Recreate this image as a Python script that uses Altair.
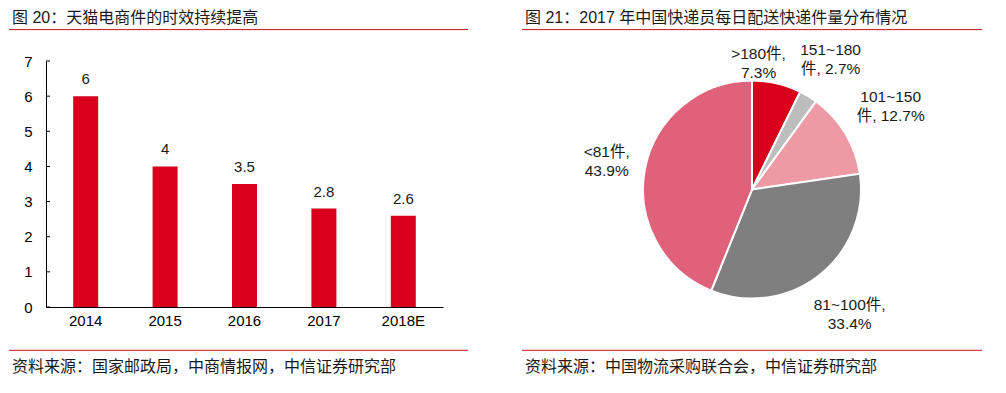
import altair as alt
import pandas as pd

FONT = "Liberation Sans, Noto Sans CJK SC"
RED = "#D9001B"
LINE_RED = "#D0101E"
TXT = "#1a1a1a"

# ---- data ----
years = ["2014", "2015", "2016", "2017", "2018E"]
days = [6, 4, 3.5, 2.8, 2.6]
y_ticks = [0, 1, 2, 3, 4, 5, 6, 7]

pie_cats = [">180件", "151~180件", "101~150件", "81~100件", "<81件"]
pie_vals = [7.3, 2.7, 12.7, 33.4, 43.9]
pie_labels = [">180件,\n7.3%", "151~180\n件, 2.7%", "101~150\n件, 12.7%", "81~100件,\n33.4%", "<81件,\n43.9%"]

title_left = "图 20：天猫电商件的时效持续提高"
title_right = "图 21：2017 年中国快递员每日配送快递件量分布情况"
source_left = "资料来源：国家邮政局，中商情报网，中信证券研究部"
source_right = "资料来源：中国物流采购联合会，中信证券研究部"

# ---- styles ----
pie_colors = ["#D9001B", "#BDBDBD", "#EE9AA5", "#7F7F7F", "#E0627A"]
label_radius = {">180件": 130, "151~180件": 152, "101~150件": 162, "81~100件": 158, "<81件": 148}

W1, H1 = 397, 246
W2, H2 = 460, 257


def deco(text, x, y, size=16):
    return alt.Chart(pd.DataFrame({"t": [text]})).mark_text(
        align="left", baseline="middle", font=FONT, fontSize=size, color=TXT
    ).encode(x=alt.value(x), y=alt.value(y), text="t:N")


def hline(x1, x2, y):
    return alt.Chart(pd.DataFrame({"a": [0]})).mark_rule(color=LINE_RED, strokeWidth=1).encode(
        x=alt.value(x1), x2=alt.value(x2), y=alt.value(y)
    )


# ---- left panel ----
bar_df = pd.DataFrame({"year": years, "days": days})
tick_df = pd.DataFrame({"days": y_ticks})

xenc = alt.X(
    "year:N", sort=years,
    scale=alt.Scale(paddingInner=0, paddingOuter=0),
    axis=alt.Axis(title=None, labelAngle=0, ticks=False, labelPadding=6, labelFontSize=15,
                  labelColor="#000", labelFont=FONT, domainColor="#000", domainWidth=1, grid=False),
)
yenc = alt.Y(
    "days:Q", scale=alt.Scale(domain=[0, 7], nice=False),
    axis=alt.Axis(title=None, values=y_ticks, ticks=False, labelPadding=14, labelFontSize=15,
                  labelColor="#000", labelFont=FONT, domainColor="#000", domainWidth=1, grid=False),
)

bars = alt.Chart(bar_df).mark_bar(size=25, color=RED).encode(x=xenc, y=yenc)
vals = alt.Chart(bar_df).mark_text(baseline="bottom", dy=-9, fontSize=15, font=FONT, color=TXT).encode(
    x=xenc, y=yenc, text=alt.Text("days:Q")
)
ticks = alt.Chart(tick_df).mark_rule(color="#000", strokeWidth=1).encode(
    y=yenc, x=alt.value(0), x2=alt.value(4)
)

left = alt.layer(
    bars, vals, ticks,
    deco(title_left, -34, -43),
    hline(-37, 422, -31.4),
    hline(-37, 422, 289.3),
    deco(source_left, -34, 306),
).properties(width=W1, height=H1)

# ---- right panel ----
pie_df = pd.DataFrame({
    "cat": pie_cats,
    "val": pie_vals,
    "label": pie_labels,
    "idx": list(range(len(pie_cats))),
})
pie_df["r"] = pie_df["cat"].map(label_radius)

pie_base = alt.Chart(pie_df).transform_window(
    v1="sum(val)", sort=[alt.SortField("idx")], frame=[None, 0]
).transform_calculate(
    v0="datum.v1 - datum.val", mid="datum.v1 - datum.val / 2"
)
tscale = alt.Scale(domain=[0, sum(pie_vals)])

arcs = pie_base.mark_arc(outerRadius=109, stroke="white", strokeWidth=2).encode(
    theta=alt.Theta("v0:Q", scale=tscale),
    theta2="v1:Q",
    color=alt.Color("cat:N", scale=alt.Scale(domain=pie_cats, range=pie_colors), legend=None),
)

label_style = dict(lineBreak="\n", fontSize=15.5, lineHeight=19, font=FONT, color=TXT,
                   align="center", baseline="middle", dy=-9)
label_enc = dict(
    theta=alt.Theta("mid:Q", scale=tscale),
    radius=alt.Radius("r:Q", scale=None),
    text="label:N",
)
labels_main = pie_base.transform_filter(alt.datum.cat != pie_cats[0]).mark_text(**label_style).encode(**label_enc)
labels_top = pie_base.transform_filter(alt.datum.cat == pie_cats[0]).mark_text(dx=-23, **label_style).encode(**label_enc)

right = alt.layer(
    arcs, labels_main, labels_top,
    deco(title_right, 3, -43),
    hline(0, 460, -31.4),
    hline(0, 460, 289.3),
    deco(source_right, 3, 306),
).properties(width=W2, height=H2)

chart = alt.hconcat(left, right, spacing=52).properties(
    padding={"top": 2, "left": 0, "right": 0, "bottom": 0}
).configure_view(stroke=None)

chart.save("out.html", embed_options={"renderer": "svg", "actions": False})
